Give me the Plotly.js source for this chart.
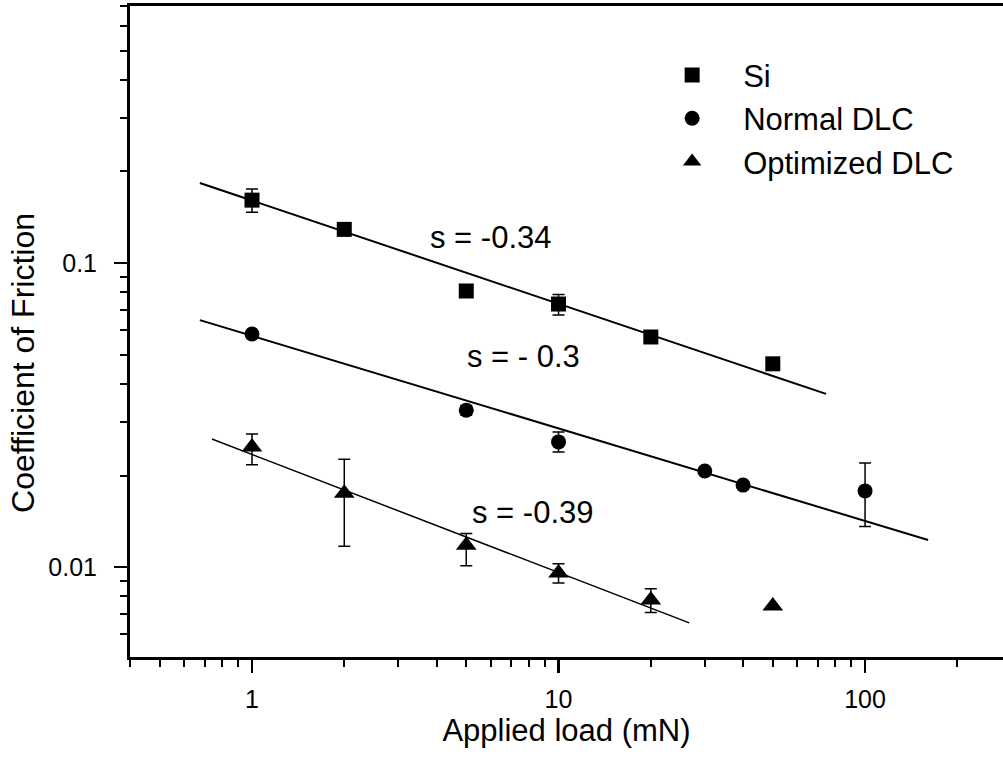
<!DOCTYPE html>
<html>
<head>
<meta charset="utf-8">
<script src="https://cdn.plot.ly/plotly-3.0.1.min.js"></script>
<style>html,body{margin:0;padding:0;background:#fff;}#chart{width:1003px;height:762px;}</style>
</head>
<body>
<div id="chart"></div>
<script>
// ---- data ----
var loads = [1, 2, 5, 10, 20, 50];
var siCoF = [0.161, 0.129, 0.0809, 0.0733, 0.0571, 0.0466];
var siErrPlus = [0.014, 0, 0, 0.0055, 0, 0];
var siErrMinus = [0.014, 0, 0, 0.0058, 0, 0];

var dlcLoads = [1, 5, 10, 30, 40, 100];
var dlcCoF = [0.0584, 0.0328, 0.0258, 0.0207, 0.0186, 0.0178];
var dlcErrPlus = [0, 0.0012, 0.0020, 0, 0, 0.0042];
var dlcErrMinus = [0, 0.0012, 0.0019, 0, 0, 0.0042];

var optLoads = [1, 2, 5, 10, 20, 50];
var optCoF = [0.0248, 0.0175, 0.0118, 0.00956, 0.00779, 0.00744];
var optErrPlus = [0.0026, 0.0051, 0.0011, 0.0007, 0.0007, 0];
var optErrMinus = [0.0031, 0.0058, 0.0017, 0.0007, 0.0007, 0];

// fitted power-law lines (end points)
var siFitX = [0.676, 74.6];
var siFitY = [0.1833, 0.0371];
var dlcFitX = [0.676, 160.6];
var dlcFitY = [0.0649, 0.01227];
var optFitX = [0.740, 26.7];
var optFitY = [0.02636, 0.00655];

var seriesNames = ["Si", "Normal DLC", "Optimized DLC"];
var slopeLabels = ["s = -0.34", "s = - 0.3", "s = -0.39"];
var xTickVals = [1, 10, 100];
var xTickText = ["1", "10", "100"];
var yTickVals = [0.01, 0.1];
var yTickText = ["0.01", "0.1"];
var xTitle = "Applied load (mN)";
var yTitle = "Coefficient of Friction";

// ---- layout ----
var FONT = "Liberation Sans, Arial, Helvetica, sans-serif";
var xRange = [-0.398, 2.450];
var yRange = [-2.296, -0.1546];

function minorTicks(range) {
  var out = [];
  for (var d = Math.floor(range[0]) - 1; d <= Math.ceil(range[1]); d++) {
    for (var k = 2; k <= 9; k++) {
      var v = k * Math.pow(10, d);
      var lv = Math.log10(v);
      if (lv >= range[0] && lv <= range[1]) out.push(v);
    }
  }
  return out;
}

function errBar(plus, minus) {
  return {type: 'data', symmetric: false, array: plus, arrayminus: minus,
          color: '#000', thickness: 1.5, width: 6, visible: true};
}

var traces = [
  {x: siFitX, y: siFitY, mode: 'lines', line: {color: '#000', width: 2}, showlegend: false, hoverinfo: 'skip'},
  {x: dlcFitX, y: dlcFitY, mode: 'lines', line: {color: '#000', width: 2}, showlegend: false, hoverinfo: 'skip'},
  {x: optFitX, y: optFitY, mode: 'lines', line: {color: '#000', width: 1.5}, showlegend: false, hoverinfo: 'skip'},
  {x: loads, y: siCoF, name: seriesNames[0], mode: 'markers',
   marker: {symbol: 'square', size: 15, color: '#000'}, error_y: errBar(siErrPlus, siErrMinus)},
  {x: dlcLoads, y: dlcCoF, name: seriesNames[1], mode: 'markers',
   marker: {symbol: 'circle', size: 15, color: '#000'}, error_y: errBar(dlcErrPlus, dlcErrMinus)},
  {x: optLoads, y: optCoF, name: seriesNames[2], mode: 'markers',
   marker: {symbol: 'triangle-up', size: 18, color: '#000'}, error_y: errBar(optErrPlus, optErrMinus)}
];

var axisCommon = {
  type: 'log', showgrid: false, zeroline: false,
  showline: true, linecolor: '#000', linewidth: 3,
  ticks: 'outside', ticklen: 13, tickwidth: 2.5, tickcolor: '#000',
  tickmode: 'array', tickfont: {family: FONT, size: 25, color: '#000'}
};

var layout = {
  width: 1003, height: 762,
  margin: {l: 130, r: 0, t: 6, b: 105, pad: 0},
  paper_bgcolor: '#fff', plot_bgcolor: '#fff',
  font: {family: FONT, color: '#000'},
  xaxis: Object.assign({}, axisCommon, {
    range: xRange, tickvals: xTickVals, ticktext: xTickText, mirror: true,
    ticklabelstandoff: 5,
    minor: {tickmode: 'array', tickvals: minorTicks(xRange), ticks: 'outside', ticklen: 7, tickwidth: 2, tickcolor: '#000', showgrid: false},
    title: {text: xTitle, font: {family: FONT, size: 31, color: '#000'}, standoff: 3}
  }),
  yaxis: Object.assign({}, axisCommon, {
    range: yRange, tickvals: yTickVals, ticktext: yTickText,
    ticklabelstandoff: 12,
    minor: {tickmode: 'array', tickvals: minorTicks(yRange), ticks: 'outside', ticklen: 7, tickwidth: 2, tickcolor: '#000', showgrid: false}
  }),
  legend: {x: 0.5855, y: 0.935, xanchor: 'left', yanchor: 'top', bgcolor: 'rgba(0,0,0,0)',
           font: {family: FONT, size: 31, color: '#000'}, itemwidth: 92, tracegroupgap: 0},
  annotations: [
    {xref: 'paper', yref: 'paper', x: 0.413, y: 0.645, text: slopeLabels[0], showarrow: false,
     font: {family: FONT, size: 31, color: '#000'}, xanchor: 'center', yanchor: 'middle'},
    {xref: 'paper', yref: 'paper', x: 0.451, y: 0.461, text: slopeLabels[1], showarrow: false,
     font: {family: FONT, size: 31, color: '#000'}, xanchor: 'center', yanchor: 'middle'},
    {xref: 'paper', yref: 'paper', x: 0.462, y: 0.2227, text: slopeLabels[2], showarrow: false,
     font: {family: FONT, size: 31, color: '#000'}, xanchor: 'center', yanchor: 'middle'},
    {xref: 'paper', yref: 'paper', x: -0.1226, y: 0.4516, text: yTitle, showarrow: false, textangle: -90,
     font: {family: FONT, size: 32, color: '#000'}, xanchor: 'center', yanchor: 'middle'}
  ]
};

Plotly.newPlot('chart', traces, layout, {displayModeBar: false, staticPlot: true});
</script>
</body>
</html>
